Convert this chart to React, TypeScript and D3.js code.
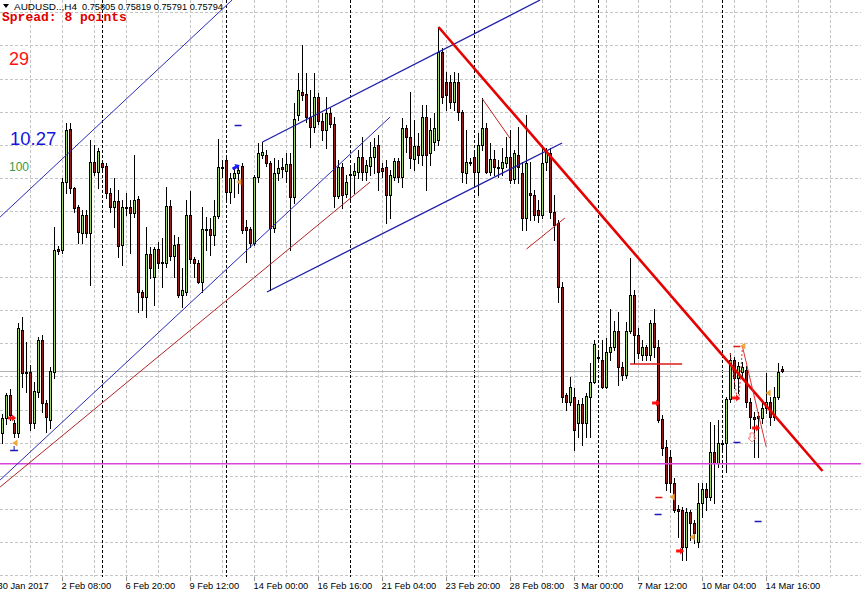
import React from 'react';
import * as d3 from 'd3';

// Prices are stored in points (1 point = 0.00001)
// each bar: [open, high, low, close], H4 bars, index 0 = leftmost visible bar
const ohlc: number[][] = [
  [75485,75580,75435,75560],[75560,75685,75530,75675],[75675,75705,75550,75575],[75535,75550,75465,75485],
  [75485,76035,75465,76010],[76000,76065,75715,75785],[75790,75940,75690,75785],[75790,75825,75500,75535],
  [75535,75740,75510,75695],[75690,75965,75665,75950],[75950,75975,75590,75635],[75635,75650,75490,75565],
  [75550,75815,75510,75795],[75790,76515,75760,76400],[76405,76420,76380,76395],[76400,76760,76385,76740],
  [76740,77035,76685,77000],[77005,77035,76685,76710],[76710,76715,76590,76610],[76615,76625,76435,76490],
  [76485,76600,76435,76575],[76575,76600,76465,76485],[76485,76950,76225,76840],[76840,76925,76775,76790],
  [76790,76910,76710,76895],[76835,76850,76800,76815],[76820,76835,76660,76685],[76685,76710,76590,76615],
  [76615,76760,76515,76645],[76645,76700,76365,76420],[76425,76650,76325,76615],[76615,76685,76575,76610],
  [76615,76650,76385,76585],[76585,76875,76565,76650],[76655,76670,76090,76190],[76190,76200,76100,76165],
  [76165,76515,76065,76380],[76380,76415,76260,76310],[76265,76415,76125,76405],[76405,76440,76310,76335],
  [76340,76460,76215,76335],[76335,76715,76315,76620],[76620,76650,76350,76370],[76370,76475,76265,76425],
  [76430,76465,76165,76175],[76175,76310,76115,76200],[76190,76650,76175,76575],[76575,76695,76335,76355],
  [76355,76365,76265,76335],[76335,76350,76235,76240],[76240,76615,76190,76505],[76505,76565,76400,76500],
  [76505,76560,76375,76475],[76475,76650,76425,76570],[76570,76955,76560,76815],[76810,76850,76765,76815],
  [76850,76860,76650,76690],[76690,76785,76635,76760],[76760,76815,76665,76785],[76785,76815,76685,76800],
  [76820,76835,76485,76500],[76515,76550,76340,76500],[76505,76515,76415,76435],[76435,76775,76425,76765],
  [76765,76935,76740,76885],[76875,76940,76860,76890],[76875,76900,76820,76835],[76835,76845,76200,76510],
  [76510,76860,76490,76785],[76785,76850,76750,76810],[76815,76860,76765,76805],[76795,76885,76740,76830],
  [76830,76885,76400,76665],[76665,77135,76635,77055],[77075,77285,77050,77200],[77190,77425,77150,77175],
  [77180,77285,77040,77065],[77065,77200,76915,77015],[77015,77285,76990,77165],[77165,77185,77030,77045],
  [77045,77085,76950,77000],[77000,77165,76910,77085],[77085,77110,77015,77030],[77030,77065,76615,76670],
  [76670,76850,76660,76815],[76815,76835,76610,76675],[76680,76775,76665,76740],[76780,76815,76650,76775],
  [76775,76835,76685,76795],[76790,76900,76760,76865],[76865,76965,76750,76790],[76790,76850,76750,76825],
  [76820,76940,76775,76865],[76865,76960,76785,76915],[76925,76975,76700,76790],[76810,76835,76765,76795],
  [76815,76850,76535,76675],[76675,76800,76560,76775],[76765,76860,76750,76845],[76845,76860,76740,76765],
  [76765,77060,76715,77010],[77010,77025,76890,76965],[76965,77190,76810,76860],[76855,77050,76800,76920],
  [76920,76985,76835,76875],[76875,77125,76825,77065],[77065,77125,76700,76875],[76885,77060,76825,77000],
  [76940,77085,76900,77010],[76950,77515,76925,77390],[77390,77410,77135,77165],[77240,77290,77100,77175],
  [77240,77275,77110,77140],[77140,77290,77100,77240],[77240,77285,77050,77090],[77090,77100,76740,76790],
  [76785,77000,76735,76840],[76840,76860,76825,76835],[76865,76890,76715,76790],[76790,76985,76675,76925],
  [76925,77160,76900,77010],[77010,77035,76785,76790],[76790,76935,76775,76855],[76855,76900,76775,76815],
  [76815,76850,76765,76810],[76810,76910,76775,76840],[76835,76965,76815,76865],[76865,77000,76735,76750],
  [76755,76900,76735,76885],[76875,77015,76735,76815],[76785,76840,76500,76560],[76560,77075,76500,76835],
  [76685,76840,76550,76675],[76675,76700,76550,76575],[76600,76650,76540,76575],[76575,76925,76560,76835],
  [76840,76910,76800,76890],[76885,76910,76560,76590],[76590,76675,76450,76525],[76535,76550,76140,76215],
  [76215,76240,75640,75665],[75675,75685,75600,75640],[75640,75765,75625,75715],[75665,75710,75400,75500],
  [75535,75650,75465,75630],[75630,75660,75425,75535],[75535,75685,75465,75670],[75665,75835,75465,75740],
  [75740,75950,75735,75930],[75865,75885,75840,75860],[75850,75950,75710,75715],[75715,75960,75710,75890],
  [75890,76105,75850,75915],[75915,76045,75900,75995],[75995,76090,75725,75815],[75815,75840,75750,75775],
  [75775,76040,75760,75995],[75995,76360,75985,76175],[76175,76200,75835,75975],[75975,76010,75860,75885],
  [75875,75950,75850,75915],[75915,75925,75850,75875],[75875,76050,75850,76035],[76035,76105,75865,75915],
  [75915,75950,75540,75550],[75555,75575,75375,75410],[75415,75450,75200,75235],[75365,75400,75190,75235],
  [75235,75260,75090,75100],[75105,75125,74965,75095],[75100,75115,74850,74915],[74915,75110,74850,75090],
  [75090,75100,74950,75035],[75035,75050,74935,74985],[74940,75235,74915,75135],[75135,75235,75065,75205],
  [75205,75235,75100,75165],[75165,75540,75150,75390],[75390,75525,75135,75335],[75335,75550,75315,75435],
  [75435,75450,75400,75430],[75435,75665,75290,75655],[75655,75885,75640,75850],[75850,75865,75710,75760],
  [75760,75840,75685,75820],[75790,75840,75760,75815],[75800,75820,75615,75640],[75640,75660,75510,75565],
  [75565,75590,75365,75555],[75570,75590,75365,75560],[75560,75640,75535,75610],[75610,75785,75585,75640],
  [75640,75665,75525,75565],[75565,75715,75550,75665],[75665,75835,75655,75790],[75805,75819,75791,75794],
];

const timeLabels = ['30 Jan 2017','2 Feb 08:00','6 Feb 20:00','9 Feb 12:00','14 Feb 00:00','16 Feb 16:00',
  '21 Feb 04:00','23 Feb 20:00','28 Feb 08:00','3 Mar 00:00','7 Mar 12:00','10 Mar 04:00','14 Mar 16:00'];
const timeLabelBars = [-1,15,31,47,63,79,95,111,127,143,159,175,191];
const weekStartBars = [25,56,87,118,149,180];

const headerSymbol = 'AUDUSD..,H4';
const headerQuote = ['0.75805','0.75819','0.75791','0.75794'];
const spreadText = 'Spread: 8 points';
const indicatorTexts = ['29','10.27','100'];

const bidPrice = 75794;
const magentaLevel = 75335;

// trend lines: [bar, price] -> [bar, price]
const trendLines = [
  { a: [-0.6, 76565], b: [57.4, 77650], color: '#2a2ab8', w: 1 },
  { a: [-0.6, 75250], b: [96.9, 77065], color: '#2a2ab8', w: 1 },
  { a: [65, 76940], b: [134.4, 77650], color: '#1e1eaa', w: 1.3 },
  { a: [66.1, 76190], b: [139.9, 76935], color: '#1e1eaa', w: 1.3 },
  { a: [-0.6, 75215], b: [91.9, 76740], color: '#b22222', w: 1 },
  { a: [109, 77515], b: [205, 75295], color: '#e60000', w: 2.6 },
  { a: [120, 77155], b: [126.9, 76958], color: '#c81e1e', w: 1 },
  { a: [131, 76405], b: [140.6, 76560], color: '#c81e1e', w: 1 },
  { a: [156.9, 75830], b: [169.9, 75830], color: '#dd1a1a', w: 1.5 },
  { a: [184.9, 75925], b: [190.9, 75417], color: '#e03030', w: 1 },
  { a: [181.9, 75885], b: [183.6, 75665], color: '#e03030', w: 1, dash: '2,2' },
  { a: [185.0, 75920], b: [184.1, 75650], color: '#e03030', w: 1, dash: '2,2' },
];

const redArrows = [[2.4,75560],[163.4,75635],[169.4,74895],[183.4,75660],[188.4,75510]];
const orangeTriangles = [[3.1,75435],[167.4,75165],[172.4,74965],[185.1,75920],[191.4,75685],[59.1,76740]];
const blueDashes = [[58.9,77025],[163.9,75080],[183.6,75440],[188.9,75045]];
const redDashes = [[164.1,75165],[183.6,75920]];
const blueArrows = [[58.4,76815]];
const blueCrosses = [[2.9,75400]];
const pinkArrows = [[187.4,75460]];

const W = 861, H = 596, PLOT_B = 577;
const BULL = '#9ed66a', BEAR = '#981818';
const FONT = '"Liberation Sans", Arial, sans-serif';

export default function App() {
  const x = d3.scaleLinear().domain([0, 195]).range([2.5, 782.5]);
  const y = d3.scaleLinear().domain([77650, 74670]).range([0, 596]);
  const gridBars = d3.range(-1, 216, 8);
  const gridPrices = d3.range(0, 18).map(k => 77588.5 - 165.5 * k);
  const line = d3.line<number[]>().x(d => x(d[0])).y(d => y(d[1]));
  const magY = Math.round(y(magentaLevel));
  const bidY = Math.round(y(bidPrice)) + 0.5;

  return (
    <svg width={W} height={H} style={{ position: 'absolute', left: 0, top: 0, background: '#fff' }}
      xmlns="http://www.w3.org/2000/svg">
      <defs>
        <clipPath id="plot"><rect x={0} y={0} width={W} height={PLOT_B} /></clipPath>
      </defs>
      <rect x={0} y={0} width={W} height={H} fill="#fff" />
      <g clipPath="url(#plot)">
        {gridBars.map(b => (
          <line key={'gv' + b} x1={x(b)} x2={x(b)} y1={0} y2={PLOT_B} stroke="#c4c4c4" strokeDasharray="3,2" />
        ))}
        {gridPrices.map((p, k) => {
          const yy = Math.round(y(p)) + 0.5;
          return <line key={'gh' + k} x1={0} x2={W} y1={yy} y2={yy} stroke="#c4c4c4" strokeDasharray="3,2" />;
        })}
        {weekStartBars.map(b => (
          <line key={'ws' + b} x1={x(b)} x2={x(b)} y1={0} y2={PLOT_B} stroke="#000" strokeDasharray="3,2" />
        ))}
        <line x1={0} x2={W} y1={bidY} y2={bidY} stroke="#b0b0b0" />
        {ohlc.map((d, i) => {
          const [o, h, l, c] = d;
          const cx = x(i);
          const top = Math.round(y(Math.max(o, c)));
          const bot = Math.round(y(Math.min(o, c)));
          const bull = c > o;
          return (
            <g key={'c' + i}>
              <line x1={cx} x2={cx} y1={Math.round(y(h))} y2={Math.round(y(l)) + 1} stroke="#000" />
              {bot - top >= 1 ? (
                <rect x={cx - 1} y={top + 0.5} width={2} height={bot - top} fill={bull ? BULL : BEAR} stroke="#000" />
              ) : (
                <line x1={cx - 1.5} x2={cx + 1.5} y1={top + 0.5} y2={top + 0.5} stroke="#000" />
              )}
            </g>
          );
        })}
        <rect x={0} y={magY} width={W} height={1.5} fill="#d844d8" />
        {trendLines.map((t, k) => (
          <path key={'tl' + k} d={line([t.a, t.b]) || ''} stroke={t.color} strokeWidth={t.w} fill="none"
            strokeDasharray={(t as any).dash || undefined} />
        ))}
        {redArrows.map((m, k) => (
          <path key={'ra' + k} transform={`translate(${x(m[0])},${y(m[1])})`}
            d="M-4,-1.5 L0,-1.5 L0,-3.5 L4,0 L0,3.5 L0,1.5 L-4,1.5 Z" fill="#ff1010" />
        ))}
        {blueArrows.map((m, k) => (
          <path key={'ba' + k} transform={`translate(${x(m[0])},${y(m[1])}) rotate(-30)`}
            d="M-4,-1.5 L0,-1.5 L0,-3.5 L4,0 L0,3.5 L0,1.5 L-4,1.5 Z" fill="#1a1aff" />
        ))}
        {orangeTriangles.map((m, k) => (
          <path key={'ot' + k} transform={`translate(${x(m[0])},${y(m[1])})`}
            d="M2.5,-3.5 L-2.5,0 L2.5,3.5 Z" fill="#eea83a" />
        ))}
        {blueDashes.map((m, k) => (
          <line key={'bd' + k} x1={x(m[0]) - 3.5} x2={x(m[0]) + 3.5} y1={Math.round(y(m[1])) + 0.5}
            y2={Math.round(y(m[1])) + 0.5} stroke="#1a1ab4" strokeWidth={1.5} />
        ))}
        {redDashes.map((m, k) => (
          <line key={'rd' + k} x1={x(m[0]) - 3.5} x2={x(m[0]) + 3.5} y1={Math.round(y(m[1])) + 0.5}
            y2={Math.round(y(m[1])) + 0.5} stroke="#e01818" strokeWidth={1.5} />
        ))}
        {blueCrosses.map((m, k) => (
          <g key={'bc' + k} stroke="#1a1ab4">
            <line x1={x(m[0]) - 4} x2={x(m[0]) + 4} y1={Math.round(y(m[1])) + 0.5} y2={Math.round(y(m[1])) + 0.5} strokeWidth={1.5} />
            <line x1={x(m[0])} x2={x(m[0])} y1={Math.round(y(m[1])) - 4} y2={Math.round(y(m[1]))} />
          </g>
        ))}
        {pinkArrows.map((m, k) => (
          <path key={'pa' + k} transform={`translate(${x(m[0])},${y(m[1])})`}
            d="M-2,-5 L2,-5 L2,0 L4,0 L0,4 L-4,0 L-2,0 Z" fill="none" stroke="#ff7a7a" />
        ))}
      </g>
      {timeLabelBars.map((b, k) => (
        <g key={'tl' + k}>
          <line x1={x(b)} x2={x(b)} y1={PLOT_B} y2={PLOT_B + 4} stroke="#999" />
          <text x={x(b) - 1} y={589} fontFamily={FONT} fontSize={9.3} fill="#000">{timeLabels[k]}</text>
        </g>
      ))}
      <path d="M3,4 L9,4 L6,8 Z" fill="#000" />
      <text x={14} y={9.5} fontFamily={FONT} fontSize={9.5} fill="#000" textLength={63} lengthAdjust="spacingAndGlyphs">
        {headerSymbol}
      </text>
      <text x={82} y={9.5} fontFamily={FONT} fontSize={9.5} fill="#000" textLength={141} lengthAdjust="spacingAndGlyphs">
        {headerQuote.join(' ')}
      </text>
      <text x={2} y={21} fontFamily='"Liberation Mono", "Courier New", monospace' fontWeight="bold" fontSize={13} fill="#e00000">
        {spreadText}
      </text>
      <text x={9} y={65} fontFamily={FONT} fontSize={18} fill="#ff1010">{indicatorTexts[0]}</text>
      <text x={10} y={145} fontFamily={FONT} fontSize={18.5} fill="#1414e0">{indicatorTexts[1]}</text>
      <text x={9} y={171} fontFamily={FONT} fontSize={12} fill="#3c9a3c">{indicatorTexts[2]}</text>
    </svg>
  );
}
